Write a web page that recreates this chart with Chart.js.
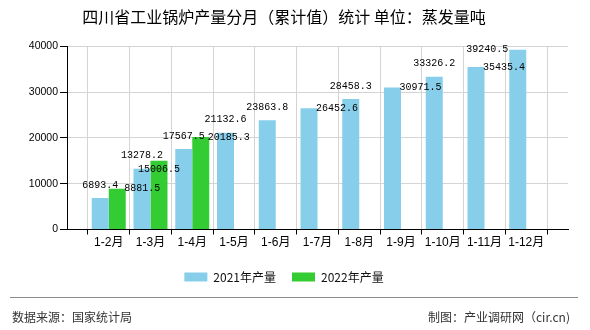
<!DOCTYPE html>
<html>
<head>
<meta charset="utf-8">
<script src="https://cdn.jsdelivr.net/npm/chart.js@4"></script>
<style>
  body { margin: 0; background: #fff; }
  #wrap { position: relative; width: 590px; height: 330px; }
  #rule { position: absolute; left: 10px; top: 297px; width: 568px; height: 0; border-top: 1px solid #8c8c8c; }
  .foot { position: absolute; top: 309px; font: 12px "Noto Sans CJK SC", sans-serif; color: #333; line-height: 16px; }
</style>
</head>
<body>
<div id="wrap">
  <canvas id="chart" width="590" height="330"></canvas>
  <div id="rule"></div>
  <div class="foot" style="left:12px">数据来源：国家统计局</div>
  <div class="foot" style="right:20px">制图：产业调研网（cir.cn)</div>
</div>
<script>
/* data */
const months = ["1-2月", "1-3月", "1-4月", "1-5月", "1-6月", "1-7月", "1-8月", "1-9月", "1-10月", "1-11月", "1-12月"];
const output2021 = [6893.4, 13278.2, 17567.5, 21132.6, 23863.8, 26452.6, 28458.3, 30971.5, 33326.2, 35435.4, 39240.5];
const output2022 = [8881.5, 15006.5, 20185.3];
const yTicks = [0, 10000, 20000, 30000, 40000];

// where each value label sits relative to its bar
const place2021 = ["top", "top", "top", "top", "top", "right", "top", "right", "top", "right", "left"];
const place2022 = ["right", "bottom", "right"];

// empty slot at each end so labels land on the grid lines
const labels = ["", ...months, ""];
const pad = arr => [null, ...arr, ...Array(months.length - arr.length + 1).fill(null)];

const valueLabels = {
  id: "valueLabels",
  afterDatasetsDraw(chart) {
    const ctx = chart.ctx;
    ctx.save();
    ctx.font = "10px 'Liberation Mono', monospace";
    ctx.fillStyle = "#000";
    ctx.textBaseline = "middle";
    [place2021, place2022].forEach((places, d) => {
      const meta = chart.getDatasetMeta(d);
      const values = d === 0 ? output2021 : output2022;
      values.forEach((v, i) => {
        const bar = meta.data[i + 1];
        const txt = v.toFixed(1);
        const half = bar.width / 2;
        let x = bar.x, y = bar.y;
        switch (places[i]) {
          case "top": ctx.textAlign = "center"; y -= 13; break;
          case "bottom": ctx.textAlign = "center"; y += 8.5; break;
          case "right": ctx.textAlign = "left"; x += half - 1.5; break;
          case "left": ctx.textAlign = "right"; x -= half + 1; break;
        }
        ctx.fillText(txt, x, y);
      });
    });
    ctx.restore();
  }
};

new Chart(document.getElementById("chart"), {
  type: "bar",
  data: {
    labels,
    datasets: [
      { label: "2021年产量", data: pad(output2021), backgroundColor: "#87ceeb" },
      { label: "2022年产量", data: pad(output2022), backgroundColor: "#33cc33" }
    ]
  },
  options: {
    responsive: false,
    animation: false,
    categoryPercentage: 0.814,
    barPercentage: 1,
    layout: { padding: { left: 0, right: 22, top: 0, bottom: 37 } },
    plugins: {
      title: {
        display: true,
        text: "四川省工业锅炉产量分月（累计值）统计 单位：蒸发量吨",
        color: "#000",
        font: { family: "'Noto Sans CJK SC', sans-serif", size: 16, weight: "normal" },
        padding: { top: 7, bottom: 20 }
      },
      legend: {
        position: "bottom",
        labels: {
          boxWidth: 23,
          boxHeight: 9,
          padding: 16,
          color: "#111",
          font: { family: "'Noto Sans CJK SC', sans-serif", size: 12 }
        }
      },
      tooltip: { enabled: false }
    },
    scales: {
      x: {
        offset: false,
        grid: { color: "#d4d4d4", tickColor: "#000", tickLength: 5 },
        border: { color: "#000" },
        ticks: {
          color: "#000",
          padding: 1,
          maxRotation: 0,
          autoSkip: false,
          font: { family: "'Liberation Sans', 'Noto Sans CJK SC', sans-serif", size: 12 }
        },
        afterFit: s => { s.height = 25.5; }
      },
      y: {
        min: 0,
        max: 40000,
        afterBuildTicks: s => { s.ticks = yTicks.map(v => ({ value: v })); },
        grid: { color: "#d4d4d4", tickColor: "#000", tickLength: 7 },
        border: { color: "#000" },
        ticks: {
          color: "#000",
          padding: 2,
          font: { family: "'Liberation Sans', sans-serif", size: 10.5 },
          callback: v => String(v)
        },
        afterFit: s => { s.width = 67; }
      }
    }
  },
  plugins: [valueLabels]
});
</script>
</body>
</html>
